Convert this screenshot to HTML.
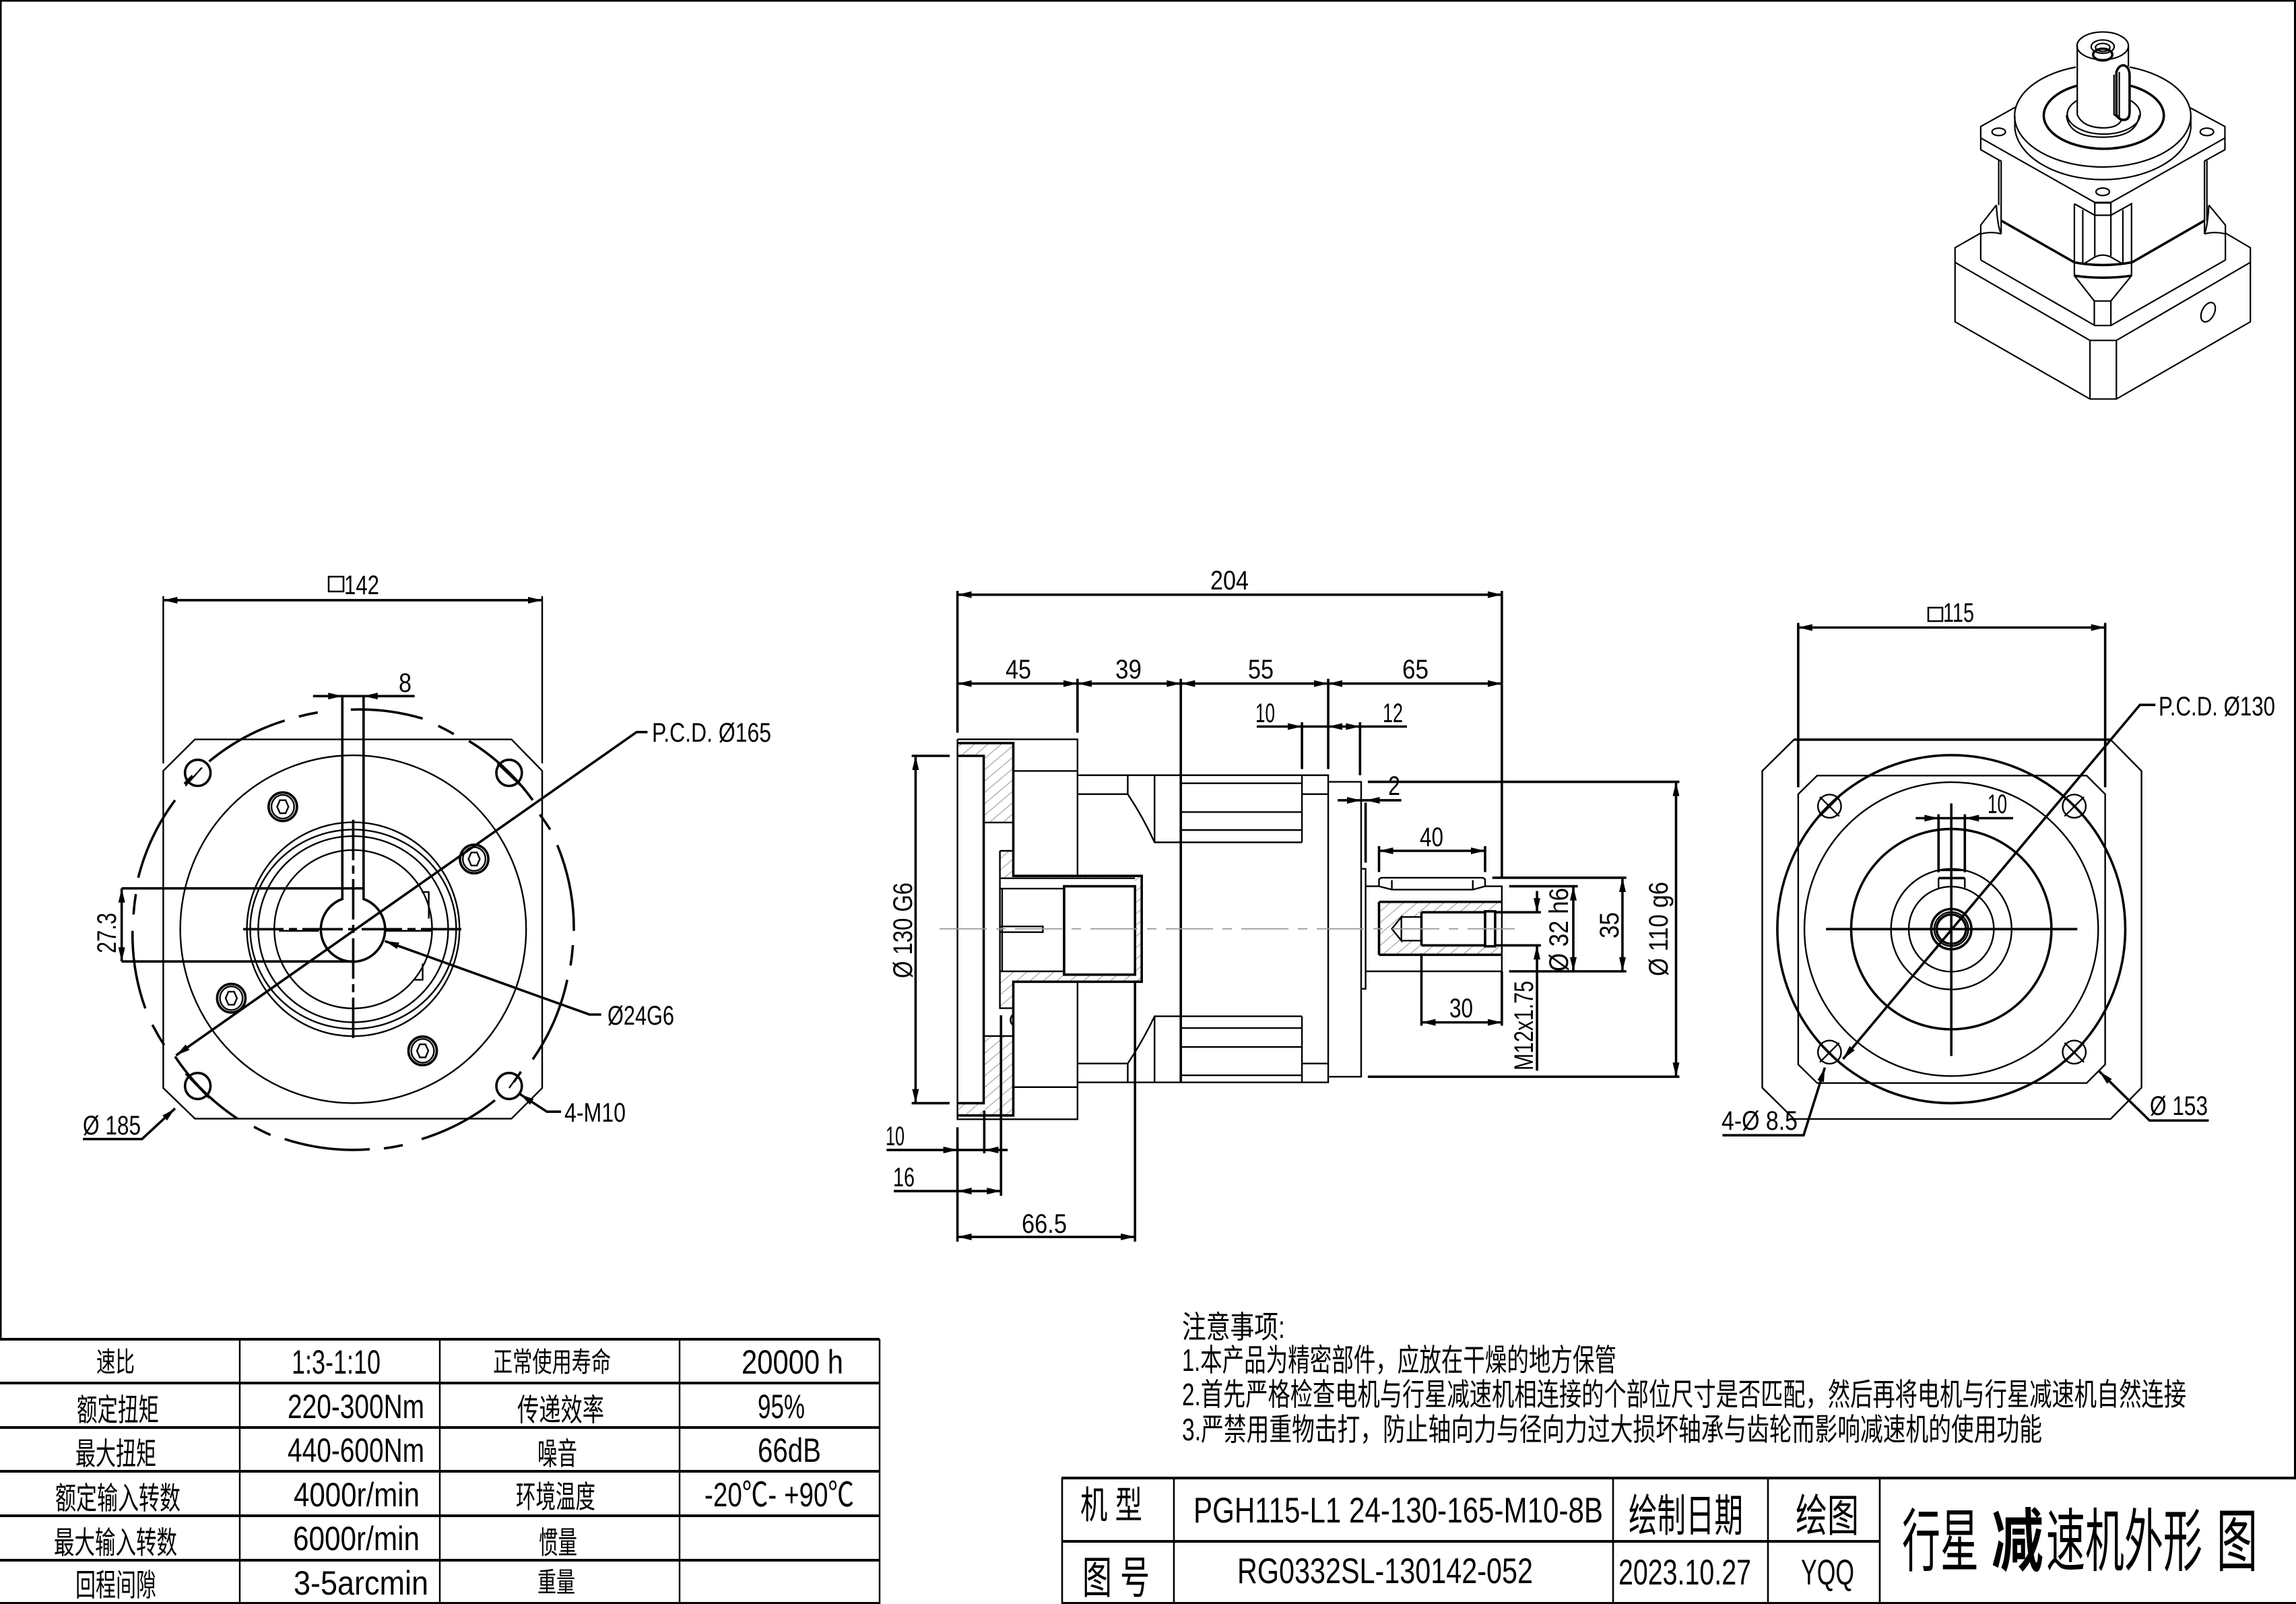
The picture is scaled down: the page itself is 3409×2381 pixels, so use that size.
<!DOCTYPE html>
<html><head><meta charset="utf-8"><title>行星减速机外形图</title>
<style>
html,body{margin:0;padding:0;background:#fff}
svg{display:block}
text{font-family:"Liberation Sans","Noto Sans CJK SC",sans-serif;fill:#000}
.v *{vector-effect:non-scaling-stroke}
.v{fill:none;stroke:#000;stroke-width:2.4;stroke-linejoin:miter}
.k{stroke-width:3.6}
.t{stroke-width:1.8}
.h{stroke:none}
.c{font-size:40px}
.n{font-size:46px}
.b{font-size:41px}
.l{font-size:50px}
.m{font-size:46px}
</style></head><body>
<svg xmlns="http://www.w3.org/2000/svg" width="3409" height="2381" viewBox="0 0 3409 2381">
<defs>
<pattern id="ht" patternUnits="userSpaceOnUse" width="24" height="24"><path d="M-2,26 L26,-2" stroke="#888" stroke-width="1.2" fill="none"/></pattern>
</defs>
<rect width="3409" height="2381" fill="#fff"/>
<!-- frame -->
<path d="M1,1988 V1 H3407.5 V2194" fill="none" stroke="#000" stroke-width="3"/>

<!-- VIEW 1 -->
<g class="v" transform="translate(100,800) scale(.7015,.606)">
<path d="M270,491 H940 L1005,568 V1345 L940,1420 H270 L203,1345 V568 Z"/>
<path d="M203,140 V550 M1005,140 V550"/>
<path class="k" d="M203,150 H1005"/>
<path class="k" d="M600,418 A467,538 0 0 1 752,440 M785,458 A467,538 0 0 1 818,478 M850,495 A467,538 0 0 1 985,640 M1000,675 A467,538 0 0 1 1022,712 M1037,750 A467,538 0 0 1 1072,960 M1070,995 A467,538 0 0 1 1065,1045 M1058,1080 A467,538 0 0 1 985,1275 M960,1305 A467,538 0 0 1 945,1330 M905,1375 A467,538 0 0 1 750,1470 M710,1485 A467,538 0 0 1 670,1493 M640,1495 A467,538 0 0 1 460,1470 M430,1460 A467,538 0 0 1 395,1440 M360,1420 A467,538 0 0 1 228,1268 M205,1240 A467,538 0 0 1 180,1190 M165,1150 A467,538 0 0 1 138,960 M140,920 A467,538 0 0 1 145,870 M150,830 A467,538 0 0 1 228,640 M248,600 A467,538 0 0 1 265,580 M300,545 A467,538 0 0 1 460,445 M490,435 A467,538 0 0 1 530,425"/>
<ellipse cx="605" cy="956" rx="366" ry="426"/>
<ellipse cx="605" cy="956" rx="225" ry="262"/>
<ellipse cx="605" cy="956" rx="218" ry="244"/>
<ellipse cx="605" cy="956" rx="201" ry="228"/>
<ellipse cx="605" cy="956" rx="167" ry="194"/>
<path class="k" d="M582,388 V882 A68,79 0 1 0 627,882 V388"/>
<path class="k" d="M115,856 H627 M115,1035 H605"/>
<path d="M750,865 H765 V930 M752,1040 V1080 H735"/>
<path class="k" d="M115,1035 V856"/>
<path class="k" d="M372,956 H838" stroke-dasharray="60 8 12 8"/>
<path d="M448,960 H532 M672,960 H770"/>
<path class="k" d="M605,688 V1225" stroke-dasharray="60 8 12 8"/>
<!-- corner holes -->
<g class="k">
<ellipse cx="276" cy="573" rx="27" ry="32"/><ellipse cx="935" cy="573" rx="27" ry="32"/>
<ellipse cx="276" cy="1340" rx="27" ry="32"/><ellipse cx="935" cy="1340" rx="27" ry="32"/>
</g>
<path d="M250,605 L285,560 M910,550 L960,605 M250,1310 L300,1370 M935,1345 L960,1305"/>
<!-- socket bolts -->
<g class="k">
<ellipse cx="456" cy="656" rx="30" ry="35"/><ellipse cx="861" cy="784" rx="30" ry="35"/>
<ellipse cx="347" cy="1125" rx="30" ry="35"/><ellipse cx="752" cy="1254" rx="30" ry="35"/>
</g>
<ellipse cx="456" cy="656" rx="24" ry="29"/><ellipse cx="861" cy="784" rx="24" ry="29"/>
<ellipse cx="347" cy="1125" rx="24" ry="29"/><ellipse cx="752" cy="1254" rx="24" ry="29"/>
<path d="M444,656 L450,640 H462 L468,656 L462,672 H450 Z M849,784 L855,768 H867 L873,784 L867,800 H855 Z M335,1125 L341,1109 H353 L359,1125 L353,1141 H341 Z M740,1254 L746,1238 H758 L764,1254 L758,1270 H746 Z"/>
<!-- leaders -->
<path class="k" d="M1228,473 H1205 L230,1265"/>
<path class="k" d="M1130,1165 H1105 L672,985"/>
<path class="k" d="M1045,1403 H1015 L958,1360"/>
<path class="k" d="M33,1470 H158 L228,1395"/>
<path class="k" d="M520,385 H735"/>
</g>
<rect x="488" y="856" width="22" height="22" fill="none" stroke="#000" stroke-width="2.5"/>
<text class="c" x="511" y="882" textLength="52" lengthAdjust="spacingAndGlyphs">142</text>
<text class="c" x="592" y="1027" textLength="19" lengthAdjust="spacingAndGlyphs">8</text>
<text class="c" x="968" y="1101" textLength="177" lengthAdjust="spacingAndGlyphs">P.C.D. Ø165</text>
<text class="c" x="902" y="1521" textLength="99" lengthAdjust="spacingAndGlyphs">Ø24G6</text>
<text class="c" x="838" y="1665" textLength="91" lengthAdjust="spacingAndGlyphs">4-M10</text>
<text class="c" x="123" y="1684" textLength="86" lengthAdjust="spacingAndGlyphs">Ø 185</text>
<text class="c" transform="translate(172,1415) rotate(-90)" textLength="60" lengthAdjust="spacingAndGlyphs">27.3</text>

<!-- VIEW 2 -->
<g class="v" transform="translate(1250,800) scale(.829,.7015)">
<g class="h">
<path fill="url(#ht)" d="M207,432 H307 V600 H254 V459 H207 Z M207,1194 H254 V1052 H307 V1220 H207 Z M283,660 H307 V713 H283 Z M283,713 H537 V937 H307 V993 H283 V915 H398 V922 H525 V718 H283 Z"/>
<path fill="url(#ht)" d="M962,768 H1182 V790 H1038 V800 H1002 L985,825 L1002,850 H1038 V860 H1182 V880 H962 Z"/>
</g>
<path d="M207,424 H422 V713 M422,937 V1228 H207 V424"/>
<path class="k" d="M207,432 H307 V713 H537 V937 H307 V1220 H207"/>
<path class="k" d="M207,459 H254 V1194 H207"/>
<path d="M254,600 H307 M254,1052 H307 M307,491 H422 M307,1160 H422"/>
<path d="M283,660 H307 M283,660 V993 H307"/>
<path d="M283,718 H525 M283,740 H398 M283,915 H398 M287,740 V915"/>
<path class="k" d="M398,735 H525 V922 H398 Z"/>
<path d="M283,820 H360 V832 H283"/>
<path class="k" d="M525,937 V1487"/>
<path d="M307,1005 Q297,1018 307,1030"/>
<!-- body -->
<path d="M422,500 H871 V1150 H422"/>
<path class="k" d="M607,296 V1150"/>
<path d="M422,540 H512 Q540,590 560,642 H824 M512,500 V540 M560,500 V642 M607,517 H824 M607,578 H824 M607,616 H824 M824,500 V642 M824,540 H871"/>
<path d="M422,1110 H512 Q540,1060 560,1010 H824 M512,1110 V1150 M560,1010 V1150 M607,1035 H824 M607,1075 H824 M607,1135 H824 M824,1010 V1150 M824,1110 H871"/>
<!-- rear block -->
<path d="M871,514 H930 V1138 H871"/>
<path d="M930,698 H938 V952 H930"/>
<path class="k" d="M938,558 V685"/>
<path d="M938,735 H962 M1152,735 H1182 V915 H938"/>
<path d="M962,720 L966,717 H1148 L1152,720 V735 L1130,742 H985 L962,735 Z M985,722 V742 M1130,722 V742"/>
<path class="k" d="M962,768 H1182 M962,880 H1182 M962,768 V880"/>
<path class="k" d="M1038,790 H1152 M1038,860 H1152 M1038,790 V860"/>
<path d="M1002,800 H1038 M1002,850 H1038 M1002,800 L985,825 L1002,850 Z"/>
<path class="k" d="M1152,788 H1170 V862 H1152 Z"/>
<path class="k" d="M1170,790 H1252 M1170,860 H1252"/>
<path class="t" style="stroke:#999" d="M175,825 H1220" stroke-dasharray="70 14 14 14"/>
<!-- dims -->
<path class="k" d="M207,110 V410 M1182,110 V715 M422,296 V410 M871,296 V487 M824,388 V487 M928,388 V500"/>
<path class="k" d="M207,118 H1182 M207,306 H1182 M743,397 H1012 M888,553 H1002"/>
<path class="k" d="M942,514 H1500 M942,1138 H1500 M1494,514 V1138"/>
<path class="k" d="M1165,717 H1405 M1195,735 H1318 M1195,915 H1405 M1398,717 V915 M1310,735 V915 M1245,745 V790 M1245,860 V1125"/>
<path class="k" d="M962,650 V705 M1152,650 V705 M962,660 H1152"/>
<path class="k" d="M1038,877 V1030 M1182,915 V1030 M1038,1023 H1182"/>
<path class="k" d="M125,459 H193 M125,1194 H193 M132,459 V1194"/>
<path class="k" d="M207,1245 V1487 M255,1210 V1300 M285,1008 V1390"/>
<path class="k" d="M80,1293 H297 M93,1380 H285 M207,1477 H525"/>
</g>
<text class="c" x="1797" y="875" textLength="57" lengthAdjust="spacingAndGlyphs">204</text>
<text class="c" x="1493" y="1007" textLength="38" lengthAdjust="spacingAndGlyphs">45</text>
<text class="c" x="1656" y="1007" textLength="39" lengthAdjust="spacingAndGlyphs">39</text>
<text class="c" x="1853" y="1007" textLength="38" lengthAdjust="spacingAndGlyphs">55</text>
<text class="c" x="2082" y="1007" textLength="39" lengthAdjust="spacingAndGlyphs">65</text>
<text class="c" x="1864" y="1072" textLength="29" lengthAdjust="spacingAndGlyphs">10</text>
<text class="c" x="2053" y="1072" textLength="30" lengthAdjust="spacingAndGlyphs">12</text>
<text class="c" x="2061" y="1180" textLength="18" lengthAdjust="spacingAndGlyphs">2</text>
<text class="c" x="2108" y="1256" textLength="35" lengthAdjust="spacingAndGlyphs">40</text>
<text class="c" x="2152" y="1510" textLength="35" lengthAdjust="spacingAndGlyphs">30</text>
<text class="c" x="1315" y="1700" textLength="28" lengthAdjust="spacingAndGlyphs">10</text>
<text class="c" x="1326" y="1761" textLength="32" lengthAdjust="spacingAndGlyphs">16</text>
<text class="c" x="1517" y="1830" textLength="67" lengthAdjust="spacingAndGlyphs">66.5</text>
<text class="c" transform="translate(1354,1452) rotate(-90)" textLength="142" lengthAdjust="spacingAndGlyphs">Ø 130 G6</text>
<text class="c" transform="translate(2476,1449) rotate(-90)" textLength="140" lengthAdjust="spacingAndGlyphs">Ø 110  g6</text>
<text class="c" transform="translate(2403,1393) rotate(-90)" textLength="39" lengthAdjust="spacingAndGlyphs">35</text>
<text class="c" transform="translate(2328,1442) rotate(-90)" textLength="124" lengthAdjust="spacingAndGlyphs">Ø 32 h6</text>
<text class="c" transform="translate(2276,1589) rotate(-90)" textLength="133" lengthAdjust="spacingAndGlyphs">M12x1.75</text>

<!-- VIEW 3 -->
<g class="v" transform="translate(2500,850) scale(.574)">
<path d="M285,432 H1104 L1184,513 V1332 L1104,1413 H285 L203,1332 V513 Z"/>
<path class="k" d="M285,432 H1104"/>
<path d="M345,525 H1042 L1090,573 V1272 L1042,1320 H345 L296,1272 V573 Z"/>
<path class="k" d="M296,130 V555 M1090,130 V555"/>
<path class="k" d="M296,142 H1090"/>
<circle cx="692" cy="922" r="450" class="k"/>
<circle cx="692" cy="922" r="380"/>
<circle cx="692" cy="922" r="259" class="k"/>
<circle cx="692" cy="922" r="156"/>
<circle cx="692" cy="922" r="110"/>
<circle cx="692" cy="922" r="52" class="k"/>
<circle cx="692" cy="922" r="44"/>
<circle cx="692" cy="922" r="38" class="k"/>
<path class="k" d="M368,922 H1018 M692,597 V1250"/>
<path class="k" d="M659,625 V775 M727,625 V775"/>
<path d="M659,770 H727"/>
<path class="k" d="M659,790 H727"/>
<path d="M659,790 V815 M727,790 V815"/>
<path class="k" d="M600,635 H852"/>
<g>
<circle cx="377" cy="604" r="30"/><circle cx="1010" cy="604" r="30"/><circle cx="377" cy="1240" r="30"/><circle cx="1010" cy="1240" r="30"/>
<path d="M352,580 L402,630 M402,580 L352,630 M985,580 L1035,630 M1035,580 L985,630 M352,1216 L402,1266 M402,1216 L352,1266 M985,1216 L1035,1266 M1035,1216 L985,1266"/>
</g>
<path class="k" d="M1220,342 H1180 L412,1258"/>
<path class="k" d="M100,1455 H310 L365,1280"/>
<path class="k" d="M1358,1417 H1205 L1075,1290"/>
</g>
<rect x="2863" y="902" width="21" height="20" fill="none" stroke="#000" stroke-width="2.5"/>
<text class="c" x="2885" y="923" textLength="46" lengthAdjust="spacingAndGlyphs">115</text>
<text class="c" x="2951" y="1207" textLength="29" lengthAdjust="spacingAndGlyphs">10</text>
<text class="c" x="3205" y="1062" textLength="173" lengthAdjust="spacingAndGlyphs">P.C.D. Ø130</text>
<text class="c" x="2556" y="1677" textLength="113" lengthAdjust="spacingAndGlyphs">4-Ø 8.5</text>
<text class="c" x="3192" y="1655" textLength="86" lengthAdjust="spacingAndGlyphs">Ø 153</text>

<!-- ARROWHEADS -->
<g fill="#000">
<path d="M0,0L-21-5V5Z" transform="translate(242.4,891) rotate(180)"/>
<path d="M0,0L-21-5V5Z" transform="translate(805,891)"/>
<path d="M0,0L-21-5V5Z" transform="translate(508.3,1033.3)"/>
<path d="M0,0L-21-5V5Z" transform="translate(539.8,1033.3) rotate(180)"/>
<path d="M0,0L-21-5V5Z" transform="translate(180.7,1427.2) rotate(90)"/>
<path d="M0,0L-21-5V5Z" transform="translate(180.7,1318.7) rotate(-90)"/>
<path d="M0,0L-21-5V5Z" transform="translate(261.3,1566.6) rotate(145)"/>
<path d="M0,0L-21-5V5Z" transform="translate(571.4,1396.9) rotate(199.7)"/>
<path d="M0,0L-21-5V5Z" transform="translate(772,1624.2) rotate(213)"/>
<path d="M0,0L-21-5V5Z" transform="translate(260,1645.4) rotate(-42.6)"/>

<path d="M0,0L-21-5V5Z" transform="translate(1421.6,882.8) rotate(180)"/>
<path d="M0,0L-21-5V5Z" transform="translate(2230,882.8)"/>
<path d="M0,0L-21-5V5Z" transform="translate(1421.6,1014.7) rotate(180)"/>
<path d="M0,0L-21-5V5Z" transform="translate(1600,1014.7)"/>
<path d="M0,0L-21-5V5Z" transform="translate(1600,1014.7) rotate(180)"/>
<path d="M0,0L-21-5V5Z" transform="translate(1753.3,1014.7)"/>
<path d="M0,0L-21-5V5Z" transform="translate(1753.3,1014.7) rotate(180)"/>
<path d="M0,0L-21-5V5Z" transform="translate(1972,1014.7)"/>
<path d="M0,0L-21-5V5Z" transform="translate(1972,1014.7) rotate(180)"/>
<path d="M0,0L-21-5V5Z" transform="translate(2230,1014.7)"/>
<path d="M0,0L-21-5V5Z" transform="translate(1933.1,1078.5)"/>
<path d="M0,0L-21-5V5Z" transform="translate(1972,1078.5) rotate(180)"/>
<path d="M0,0L-21-5V5Z" transform="translate(2019.3,1078.5)"/>
<path d="M0,0L-21-5V5Z" transform="translate(2021,1188)"/>
<path d="M0,0L-21-5V5Z" transform="translate(2027.6,1188) rotate(180)"/>
<path d="M0,0L-21-5V5Z" transform="translate(2488.5,1160.6) rotate(-90)"/>
<path d="M0,0L-21-5V5Z" transform="translate(2488.5,1598.3) rotate(90)"/>
<path d="M0,0L-21-5V5Z" transform="translate(2409,1303) rotate(-90)"/>
<path d="M0,0L-21-5V5Z" transform="translate(2409,1441.9) rotate(90)"/>
<path d="M0,0L-21-5V5Z" transform="translate(2336,1315.6) rotate(-90)"/>
<path d="M0,0L-21-5V5Z" transform="translate(2336,1441.9) rotate(90)"/>
<path d="M0,0L-21-5V5Z" transform="translate(2282,1354.2) rotate(90)"/>
<path d="M0,0L-21-5V5Z" transform="translate(2282,1403.3) rotate(-90)"/>
<path d="M0,0L-21-5V5Z" transform="translate(2047.5,1263) rotate(180)"/>
<path d="M0,0L-21-5V5Z" transform="translate(2205,1263)"/>
<path d="M0,0L-21-5V5Z" transform="translate(2110.5,1517.6) rotate(180)"/>
<path d="M0,0L-21-5V5Z" transform="translate(2230,1517.6)"/>
<path d="M0,0L-21-5V5Z" transform="translate(1359.4,1122) rotate(-90)"/>
<path d="M0,0L-21-5V5Z" transform="translate(1359.4,1637.6) rotate(90)"/>
<path d="M0,0L-21-5V5Z" transform="translate(1421.6,1707)"/>
<path d="M0,0L-21-5V5Z" transform="translate(1461.4,1707) rotate(180)"/>
<path d="M0,0L-21-5V5Z" transform="translate(1421.6,1768) rotate(180)"/>
<path d="M0,0L-21-5V5Z" transform="translate(1486.3,1768)"/>
<path d="M0,0L-21-5V5Z" transform="translate(1421.6,1836) rotate(180)"/>
<path d="M0,0L-21-5V5Z" transform="translate(1685.2,1836)"/>

<path d="M0,0L-21-5V5Z" transform="translate(2669.9,931.5) rotate(180)"/>
<path d="M0,0L-21-5V5Z" transform="translate(3125.7,931.5)"/>
<path d="M0,0L-21-5V5Z" transform="translate(2878.3,1214.5)"/>
<path d="M0,0L-21-5V5Z" transform="translate(2917.3,1214.5) rotate(180)"/>
<path d="M0,0L-21-5V5Z" transform="translate(2736.5,1572) rotate(130)"/>
<path d="M0,0L-21-5V5Z" transform="translate(2709.5,1584.7) rotate(-72.6)"/>
<path d="M0,0L-21-5V5Z" transform="translate(3117,1590.5) rotate(224.3)"/>
</g>

<!-- VIEW 4 ISO -->
<g class="v" transform="translate(2850,0) scale(.3565,.3954)" style="stroke-width:2.2">
<ellipse cx="763" cy="172" rx="107" ry="52"/>
<path d="M657,172 V430 Q680,480 770,480 Q825,480 842,450 M870,172 V250"/>
<ellipse cx="763" cy="175" rx="48" ry="25"/>
<ellipse cx="763" cy="178" rx="30" ry="15"/>
<ellipse cx="763" cy="205" rx="40" ry="22" class="k"/>
<path class="k" d="M820,270 Q830,245 850,245 Q875,250 875,285 V420 Q875,450 850,450 Q830,450 820,430 Z"/>
<path d="M832,270 V440 M810,280 V430 L830,445"/>
<path d="M875,252 A367,192 0 1 1 651,252"/>
<path d="M397,435 V480 A367,205 0 0 0 1130,480 V435"/>
<path class="k" d="M880,322 A250,125 0 1 1 655,322"/>
<path d="M880,378 A152,75 0 1 1 655,378 M612,432 Q620,515 763,515 Q905,515 915,432"/>
<path d="M400,402 L255,475 V562 L335,603 M1128,405 L1272,475 V562 L1190,603"/>
<path d="M255,518 L730,760 H797 L1272,518"/>
<ellipse cx="330" cy="495" rx="28" ry="14"/><ellipse cx="1197" cy="495" rx="28" ry="14"/><ellipse cx="763" cy="720" rx="28" ry="14"/>
<path d="M330,603 V770 M340,603 V878 M330,603 H340 M1187,603 V878 M1197,603 V830 M1187,603 H1197"/>
<path class="k" d="M340,828 L645,985 M1187,828 L885,985"/>
<path d="M645,765 V1035 L728,1130 V1222 M645,765 L730,808 H797 L883,765 V1035 L797,1130 V1222"/>
<path d="M730,762 V962 M797,762 V962 M730,762 H797 M680,788 V990 M847,788 V990 M685,990 L730,965 Q763,950 797,965 L845,990"/>
<path class="k" d="M645,985 Q763,1005 883,985 M645,1035 Q763,1050 883,1035"/>
<path d="M730,1130 H797"/>
<path d="M255,976 V845 L320,770 M255,976 L730,1222 H797 L1274,976 V845 L1205,770 M255,878 Q300,868 340,878 M320,770 Q325,850 340,878 M1187,878 Q1230,868 1274,878 M1205,770 Q1200,850 1187,878"/>
<path d="M255,875 L148,930 V1208 L710,1498 H820 L1378,1208 V930 L1274,875"/>
<path d="M148,985 L710,1278 H820 L1378,985 M710,1278 V1498 M820,1278 V1498"/>
<ellipse cx="1202" cy="1172" rx="25" ry="40" transform="rotate(32 1202 1172)"/>
</g>

<!-- SPEC TABLE -->
<g fill="none" stroke="#000">
<path stroke-width="4" d="M0,1988 H1306 M0,2053 H1306 M0,2119 H1306 M0,2184 H1306 M0,2250 H1306 M0,2316 H1306 M0,2380 H1306"/>
<path stroke-width="2.4" d="M356,1988 V2381 M653,1988 V2381 M1009,1988 V2381 M1306,1988 V2381"/>
</g>
<text class="b" x="143" y="2036" textLength="57" lengthAdjust="spacingAndGlyphs">速比</text>
<text class="l" x="433" y="2039" textLength="132" lengthAdjust="spacingAndGlyphs">1:3-1:10</text>
<text class="b" x="732" y="2036" textLength="175" lengthAdjust="spacingAndGlyphs">正常使用寿命</text>
<text class="l" x="1101" y="2039" textLength="151" lengthAdjust="spacingAndGlyphs">20000  h</text>
<text class="m" x="114" y="2109" textLength="122" lengthAdjust="spacingAndGlyphs">额定扭矩</text>
<text class="l" x="427" y="2105" textLength="203" lengthAdjust="spacingAndGlyphs">220-300Nm</text>
<text class="m" x="768" y="2109" textLength="129" lengthAdjust="spacingAndGlyphs">传递效率</text>
<text class="l" x="1125" y="2105" textLength="70" lengthAdjust="spacingAndGlyphs">95%</text>
<text class="m" x="112" y="2174" textLength="120" lengthAdjust="spacingAndGlyphs">最大扭矩</text>
<text class="l" x="427" y="2170" textLength="203" lengthAdjust="spacingAndGlyphs">440-600Nm</text>
<text class="m" x="798" y="2174" textLength="59" lengthAdjust="spacingAndGlyphs">噪音</text>
<text class="l" x="1125" y="2170" textLength="94" lengthAdjust="spacingAndGlyphs">66dB</text>
<text class="m" x="82" y="2240" textLength="186" lengthAdjust="spacingAndGlyphs">额定输入转数</text>
<text class="l" x="436" y="2236" textLength="187" lengthAdjust="spacingAndGlyphs">4000r/min</text>
<text class="m" x="766" y="2238" textLength="118" lengthAdjust="spacingAndGlyphs">环境温度</text>
<text class="l" x="1046" y="2236" textLength="222" lengthAdjust="spacingAndGlyphs">-20℃-  +90℃</text>
<text class="m" x="80" y="2306" textLength="183" lengthAdjust="spacingAndGlyphs">最大输入转数</text>
<text class="l" x="435" y="2301" textLength="188" lengthAdjust="spacingAndGlyphs">6000r/min</text>
<text class="m" x="800" y="2306" textLength="57" lengthAdjust="spacingAndGlyphs">惯量</text>
<text class="m" x="112" y="2369" textLength="120" lengthAdjust="spacingAndGlyphs">回程间隙</text>
<text class="l" x="436" y="2367" textLength="200" lengthAdjust="spacingAndGlyphs">3-5arcmin</text>
<text class="b" x="798" y="2363" textLength="56" lengthAdjust="spacingAndGlyphs">重量</text>

<!-- NOTES -->
<text class="n" x="1755" y="1986" textLength="153" lengthAdjust="spacingAndGlyphs">注意事项:</text>
<text class="n" x="1755" y="2035" textLength="645" lengthAdjust="spacingAndGlyphs">1.本产品为精密部件，应放在干燥的地方保管</text>
<text class="n" x="1755" y="2086" textLength="1491" lengthAdjust="spacingAndGlyphs">2.首先严格检查电机与行星减速机相连接的个部位尺寸是否匹配，然后再将电机与行星减速机自然连接</text>
<text class="n" x="1755" y="2138" textLength="1277" lengthAdjust="spacingAndGlyphs">3.严禁用重物击打，防止轴向力与径向力过大损坏轴承与齿轮而影响减速机的使用功能</text>

<!-- TITLE BLOCK -->
<g fill="none" stroke="#000">
<path stroke-width="4" d="M1576,2194 H3409 M1576,2288 H2791 M1576,2380 H3409"/>
<path stroke-width="2.6" d="M1577,2194 V2381 M1743,2194 V2381 M2395,2194 V2381 M2625,2194 V2381 M2791,2194 V2381"/>
</g>
<text x="1604" y="2254" font-size="56" textLength="92" lengthAdjust="spacingAndGlyphs">机 型</text>
<text x="1607" y="2365" font-size="66" textLength="100" lengthAdjust="spacingAndGlyphs">图 号</text>
<text x="1772" y="2260" font-size="53" textLength="608" lengthAdjust="spacingAndGlyphs">PGH115-L1 24-130-165-M10-8B</text>
<text x="1837" y="2350" font-size="53" textLength="439" lengthAdjust="spacingAndGlyphs">RG0332SL-130142-052</text>
<text x="2418" y="2273" font-size="66" textLength="170" lengthAdjust="spacingAndGlyphs">绘制日期</text>
<text x="2666" y="2273" font-size="66" textLength="94" lengthAdjust="spacingAndGlyphs">绘图</text>
<text x="2403" y="2352" font-size="53" textLength="197" lengthAdjust="spacingAndGlyphs">2023.10.27</text>
<text x="2674" y="2352" font-size="53" textLength="79" lengthAdjust="spacingAndGlyphs">YQQ</text>
<text x="2824" y="2324" font-size="102" textLength="114" lengthAdjust="spacingAndGlyphs">行星</text>
<text x="2957" y="2324" font-size="102" font-weight="bold" textLength="77" lengthAdjust="spacingAndGlyphs">减</text>
<text x="3038" y="2324" font-size="102" textLength="232" lengthAdjust="spacingAndGlyphs">速机外形</text>
<text x="3291" y="2324" font-size="102" textLength="61" lengthAdjust="spacingAndGlyphs">图</text>
</svg>
</body></html>
